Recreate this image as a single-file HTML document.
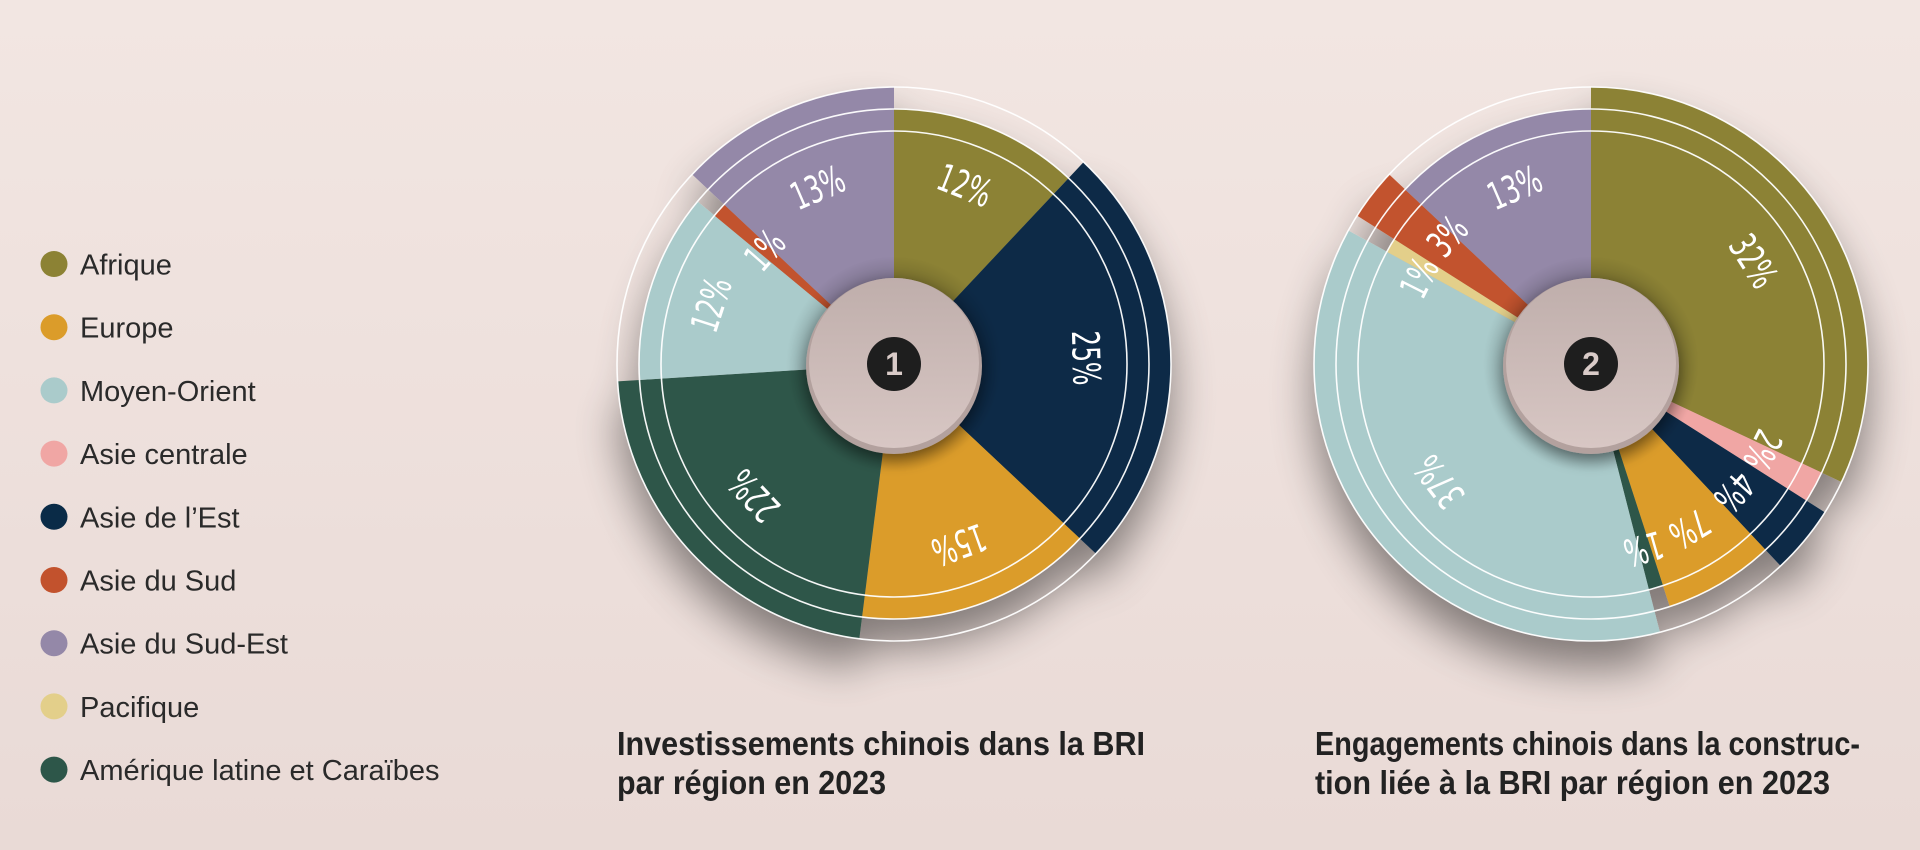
<!DOCTYPE html>
<html><head><meta charset="utf-8"><style>
html,body{margin:0;padding:0;width:1920px;height:850px;overflow:hidden;}
svg{display:block;}
</style></head><body>
<svg id="root" width="1920" height="850" viewBox="0 0 1920 850" xmlns="http://www.w3.org/2000/svg">
<defs>
<linearGradient id="bg" x1="0" y1="0" x2="0" y2="1"><stop offset="0" stop-color="#f2e6e2"/><stop offset="1" stop-color="#e9dad6"/></linearGradient>
<linearGradient id="hub" x1="0" y1="0" x2="0" y2="1"><stop offset="0" stop-color="#bfaeab"/><stop offset="1" stop-color="#d8c7c4"/></linearGradient>
<radialGradient id="inner" cx="0.5" cy="0.5" r="0.5"><stop offset="0.3" stop-color="#000" stop-opacity="0.35"/><stop offset="0.6" stop-color="#000" stop-opacity="0"/></radialGradient>
<filter id="shadow" x="-30%" y="-30%" width="160%" height="170%"><feGaussianBlur in="SourceAlpha" stdDeviation="22"/><feOffset dx="0" dy="28"/><feComponentTransfer><feFuncA type="linear" slope="0.45"/></feComponentTransfer><feMerge><feMergeNode/><feMergeNode in="SourceGraphic"/></feMerge></filter>
<filter id="hubshadow" x="-40%" y="-40%" width="180%" height="180%"><feGaussianBlur in="SourceAlpha" stdDeviation="8"/><feOffset dx="0" dy="6"/><feComponentTransfer><feFuncA type="linear" slope="0.45"/></feComponentTransfer><feMerge><feMergeNode/><feMergeNode in="SourceGraphic"/></feMerge></filter>
</defs>
<rect width="1920" height="850" fill="url(#bg)"/>
<g id="legend"></g>
<g id="chart1"></g>
<g id="chart2"></g>
<g font-family="'Liberation Sans', sans-serif" font-weight="bold" font-size="33" fill="#222">
<text x="617" y="755" textLength="528" lengthAdjust="spacingAndGlyphs">Investissements chinois dans la BRI</text>
<text x="617" y="794" textLength="269" lengthAdjust="spacingAndGlyphs">par région en 2023</text>
<text x="1315" y="755" textLength="545" lengthAdjust="spacingAndGlyphs">Engagements chinois dans la construc-</text>
<text x="1315" y="794" textLength="515" lengthAdjust="spacingAndGlyphs">tion liée à la BRI par région en 2023</text>
</g>
</svg>
<script>
const NS='http://www.w3.org/2000/svg';
const regions=['Afrique','Europe','Moyen-Orient','Asie centrale','Asie de l\u2019Est','Asie du Sud','Asie du Sud-Est','Pacifique','Amérique latine et Caraïbes'];
const regionColors=['#8c8234','#db9c2a','#aacbcb','#f0a6a4','#0a2b47','#c2522d','#9488a8','#e3cf8a','#2d5649'];
// chart 1: investments (clockwise from 12 o'clock)
const c1Regions=['Afrique','Asie de l\u2019Est','Europe','Amérique latine et Caraïbes','Moyen-Orient','Asie du Sud','Asie du Sud-Est'];
const c1Values=[12,25,15,22,12,1,13];
const c1Levels=[2,3,2,3,2,1,3];
// chart 2: construction
const c2Regions=['Afrique','Asie centrale','Asie de l\u2019Est','Europe','Amérique latine et Caraïbes','Moyen-Orient','Pacifique','Asie du Sud','Asie du Sud-Est'];
const c2Values=[32,2,4,7,1,37,1,3,13];
const c2Levels=[3,2,3,2,1,3,1,3,2];

function mk(tag,attrs,parent){const e=document.createElementNS(NS,tag);for(const k in attrs)e.setAttribute(k,attrs[k]);if(parent)parent.appendChild(e);return e;}
function pt(cx,cy,r,a){const t=a*Math.PI/180;return [cx+r*Math.sin(t),cy-r*Math.cos(t)];}
const levelRadius=l=>211+22*l;
const angleScale=v=>v*3.6;

// legend
const lg=document.getElementById('legend');
regions.forEach((name,i)=>{
  const y=264+i*63.2;
  const g=mk('g',{},lg);
  
  
  const c=mk('ellipse',{cx:54,cy:y,rx:13.5,ry:13,fill:regionColors[i]},g);
  
  
  const t=mk('text',{x:80,y:y+10.5,'font-family':"'Liberation Sans', sans-serif",'font-size':29,fill:'#2a2a2a'},g);
  
  
  t.textContent=name;
});

function drawPie(id,cx,cy,names,values,levels,num){
  const root=document.getElementById(id);
  const sh=mk('g',{filter:'url(#shadow)'},root);
  let a0=0;
  const labels=[];
  values.forEach((v,i)=>{
    const a1=a0+angleScale(v);
    const r=levelRadius(levels[i]);
    const p0=pt(cx,cy,r,a0),p1=pt(cx,cy,r,a1);
    const large=(a1-a0)>180?1:0;
    const d=`M${cx},${cy} L${p0[0]},${p0[1]} A${r},${r} 0 ${large} 1 ${p1[0]},${p1[1]} Z`;
    const col=regionColors[regions.indexOf(names[i])];
    const s=mk('path',{d:d,fill:col},sh);
    
    
    labels.push({mid:(a0+a1)/2,v:v,r:v<=1&&id==='chart1'?172:192});
    a0=a1;
  });
  // spread crowded labels
  for(let it=0;it<30;it++){
    for(let i=0;i<labels.length-1;i++){
      const g=labels[i+1].mid-labels[i].mid;
      if(g<15){const p=(15-g)/2;labels[i].mid-=p;labels[i+1].mid+=p;}
    }
  }
  mk('circle',{cx:cx,cy:cy,r:180,fill:'url(#inner)'},root);
  [233,255,277].forEach(r=>{
    const ring=mk('circle',{cx:cx,cy:cy,r:r,fill:'none',stroke:'#fff','stroke-width':1.6,'stroke-opacity':0.95},root);
    
    
  });
  labels.forEach(L=>{
    const p=pt(cx,cy,L.r,L.mid);
    const t=mk('text',{x:0,y:0,transform:`translate(${p[0]},${p[1]}) rotate(${L.mid}) scale(0.72,1)`,'text-anchor':'middle','dominant-baseline':'central','font-family':"'Liberation Sans Narrow','DejaVu Sans Condensed','Liberation Sans',sans-serif",'font-size':38,fill:'#fff'},root);
    
    
    t.textContent=L.v+'%';
  });
  const hub=mk('g',{filter:'url(#hubshadow)'},root);
  
  
  mk('circle',{cx:cx,cy:cy+2,r:88,fill:'#b3a19e'},hub);
  mk('circle',{cx:cx,cy:cy-1,r:85,fill:'url(#hub)'},hub);
  const b=mk('circle',{cx:cx,cy:cy,r:27,fill:'#1e1e1e'},root);
  
  
  const n=mk('text',{x:cx,y:cy+11,'text-anchor':'middle','font-family':"'Liberation Sans',sans-serif",'font-weight':'bold','font-size':32,fill:'#d9cbc8'},root);
  
  
  n.textContent=num;
}
drawPie('chart1',894,364,c1Regions,c1Values,c1Levels,'1');
drawPie('chart2',1591,364,c2Regions,c2Values,c2Levels,'2');
</script>
</body></html>
